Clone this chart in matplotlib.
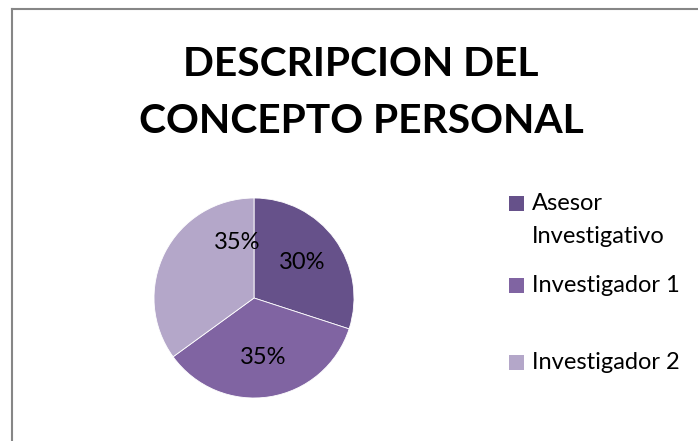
import numpy as np
import matplotlib.pyplot as plt
from matplotlib.patches import Rectangle
from matplotlib.lines import Line2D

categories = ["Asesor\nInvestigativo", "Investigador 1", "Investigador 2"]
values = [30, 35, 35]
colors = ["#66518A", "#8064A2", "#B4A7C9"]
title = "DESCRIPCION DEL\nCONCEPTO PERSONAL"

plt.rcParams['font.family'] = ['Lato', 'DejaVu Sans']

W, H = 698, 441
fig = plt.figure(figsize=(W / 100, H / 100), dpi=100)

def fx(px):
    return px / W

def fy(py):
    return 1 - py / H

# chart border (only top and left visible in the crop)
fig.add_artist(Line2D([fx(12), fx(12)], [0, fy(9)], color="#868686", lw=1.5))
fig.add_artist(Line2D([fx(12), 1], [fy(9), fy(9)], color="#868686", lw=1.5))

fig.text(fx(361), fy(93), title, ha="center", va="center", fontsize=29.3,
         fontweight="bold", linespacing=1.68)

ax = fig.add_axes([fx(154), fy(398), 200 / W, 200 / H])
wedges, texts, autotexts = ax.pie(values, colors=colors, startangle=90, counterclock=False,
                                  autopct="%d%%", pctdistance=0.6,
                                  wedgeprops=dict(edgecolor="white", linewidth=0.6),
                                  textprops=dict(fontsize=17))
# Excel put the last label closer to the top
a = np.deg2rad(107)
autotexts[2].set_position((0.58 * np.cos(a), 0.58 * np.sin(a)))
ax.set_xlim(-1, 1)
ax.set_ylim(-1, 1)
ax.set_aspect("equal")

# legend, Excel style: square next to first line of each entry
legend_baselines = [210, 292, 369]
line_gap = 33
for cat, col, yb in zip(categories, colors, legend_baselines):
    fig.add_artist(Rectangle((fx(509), fy(yb + 1)), 15 / W, 15 / H, facecolor=col,
                             transform=fig.transFigure))
    for i, line in enumerate(cat.split("\n")):
        fig.text(fx(532), fy(yb + i * line_gap), line, ha="left", va="baseline",
                 fontsize=17)

fig.savefig("out.png", dpi=100)
